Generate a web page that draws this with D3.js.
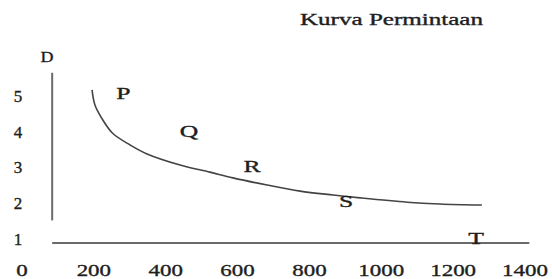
<!DOCTYPE html>
<html>
<head>
<meta charset="utf-8">
<script src="https://cdn.jsdelivr.net/npm/d3@7"></script>
<style>
  html, body { margin: 0; padding: 0; background: #fff; }
  svg { display: block; }
  text { font-family: "Liberation Serif", "Times New Roman", serif; fill: #1e1e1e; stroke: #1e1e1e; stroke-width: 0.35px; }
</style>
</head>
<body>
<svg id="chart" width="552" height="279"></svg>
<script>
// ---- data ----
const title = "Kurva Permintaan";
const yAxisTitle = "D";
const xTickValues = [0, 200, 400, 600, 800, 1000, 1200, 1400];
const yTickValues = [1, 2, 3, 4, 5];
const curveX = [195, 203, 225, 253, 301, 348, 440, 523, 587, 682, 774, 866, 941, 1072, 1163, 1280];
const curveY = [5.17, 4.75, 4.33, 3.95, 3.63, 3.38, 3.07, 2.87, 2.71, 2.51, 2.34, 2.23, 2.15, 2.03, 1.98, 1.95];
const pointLabels = ["P", "Q", "R", "S", "T"];
const pointX = [282, 465, 640, 902, 1264];
const pointY = [5.08, 4.02, 3.04, 2.04, 1.03];
// hand-drawn axis lines (in data units)
const vAxisX = 84, vAxisY0 = 1.52, vAxisY1 = 5.65;
const hAxisY = 0.89, hAxisX0 = 84, hAxisX1 = 1412;

// ---- scales ----
const svg = d3.select("#chart");
const x = d3.scaleLinear().domain([0, 1400]).range([22, 525]);
const y = d3.scaleLinear().domain([1, 5]).range([239, 96]);

// axis lines
svg.append("line")
  .attr("x1", x(vAxisX)).attr("x2", x(vAxisX))
  .attr("y1", y(vAxisY0)).attr("y2", y(vAxisY1))
  .attr("stroke", "#6a6a6a").attr("stroke-width", 2);
svg.append("line")
  .attr("x1", x(hAxisX0)).attr("x2", x(hAxisX1))
  .attr("y1", y(hAxisY)).attr("y2", y(hAxisY))
  .attr("stroke", "#6a6a6a").attr("stroke-width", 2);

// curve
const pts = curveX.map((v, i) => [v, curveY[i]]);
svg.append("path")
  .attr("d", d3.line().x(d => x(d[0])).y(d => y(d[1])).curve(d3.curveCatmullRom.alpha(0.5))(pts))
  .attr("fill", "none").attr("stroke", "#444").attr("stroke-width", 1.6);

// stretched text helper
function stretched(parent, tx, ty, txt, size, sx) {
  parent.append("g").attr("transform", `translate(${tx},${ty})`)
    .append("text")
    .attr("transform", `scale(${sx},1)`)
    .attr("text-anchor", "middle")
    .attr("dy", "0.35em")
    .attr("font-size", size)
    .text(txt);
}

// x tick labels
xTickValues.forEach(v => stretched(svg, x(v), 270, String(v), 17, 1.35));
// y tick labels
yTickValues.forEach(v => stretched(svg, 18, y(v), String(v), 17, 1.0));
// point labels
pointLabels.forEach((t, i) => stretched(svg, x(pointX[i]), y(pointY[i]), t, 16, 1.6));
// D
stretched(svg, 47, 57, yAxisTitle, 15, 1.2);
// title
svg.append("text")
  .attr("x", 300).attr("y", 25)
  .attr("font-size", 16)
  .attr("textLength", 183).attr("lengthAdjust", "spacingAndGlyphs")
  .text(title);
</script>
</body>
</html>
